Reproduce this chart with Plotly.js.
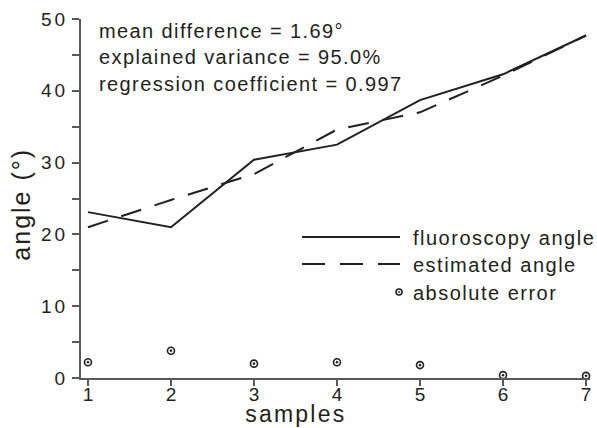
<!DOCTYPE html>
<html>
<head>
<meta charset="utf-8">
<script src="https://cdn.plot.ly/plotly-3.0.1.min.js"></script>
<style>
  html, body { margin: 0; padding: 0; background: #fff; }
  #chart { width: 597px; height: 428px; }
  .ytick text { letter-spacing: 3px; }
  .annotation[data-index="0"] text, .annotation[data-index="1"] text, .annotation[data-index="2"] text { letter-spacing: 1.4px; }
  .annotation[data-index="3"] text, .annotation[data-index="4"] text, .annotation[data-index="5"] text { letter-spacing: 1.5px; }
  .annotation[data-index="6"] text { letter-spacing: 2.2px; }
  .annotation[data-index="7"] text { letter-spacing: 2px; }
</style>
</head>
<body>
<div id="chart"></div>
<script>
// ---- data ----
const samples = [1, 2, 3, 4, 5, 6, 7];
const fluoroscopyAngle = [23.1, 21.0, 30.4, 32.5, 38.7, 42.3, 47.7];
const estimatedAngle = [21.0, 24.8, 28.4, 34.6, 37.0, 42.1, 47.7];
const absoluteError = [2.2, 3.8, 2.0, 2.2, 1.8, 0.4, 0.3];
const seriesNames = ['fluoroscopy angle', 'estimated angle', 'absolute error'];
const statsLines = ['mean difference = 1.69°', 'explained variance = 95.0%', 'regression coefficient = 0.997'];
const xTitle = 'samples';
const yTitle = 'angle (°)';

const INK = '#231f20';
const AXIS = '#58595b';
const FONT = 'Liberation Sans, Arial, sans-serif';

const traces = [
  { x: samples, y: fluoroscopyAngle, name: seriesNames[0], type: 'scatter', mode: 'lines',
    line: { color: INK, width: 2 }, showlegend: false, cliponaxis: false },
  { x: samples, y: estimatedAngle, name: seriesNames[1], type: 'scatter', mode: 'lines',
    line: { color: INK, width: 2, dash: '21px,14px' }, showlegend: false, cliponaxis: false },
  { x: samples, y: absoluteError, name: seriesNames[2], type: 'scatter', mode: 'markers',
    marker: { symbol: 'circle-open-dot', size: 7, color: INK, line: { color: INK, width: 1.6 } },
    showlegend: false, cliponaxis: false }
];

// legend placement (paper coords)
const legX0 = 0.4342, legX1 = 0.6267, legTextX = 0.6483;
const legY = [0.3928, 0.3175, 0.2396];
const legTextY = [0.390, 0.3156, 0.2376];

const annotations = [];
const statsY = [0.9674, 0.8933, 0.8189];
statsLines.forEach((t, i) => annotations.push({
  xref: 'paper', yref: 'paper', x: 0.0314, y: statsY[i], xanchor: 'left', yanchor: 'middle', align: 'left',
  text: t, showarrow: false, font: { family: FONT, size: 20, color: INK }
}));
seriesNames.forEach((t, i) => annotations.push({
  xref: 'paper', yref: 'paper', x: legTextX, y: legTextY[i], xanchor: 'left', yanchor: 'middle', align: 'left',
  text: t, showarrow: false, font: { family: FONT, size: 20, color: INK }
}));
annotations.push({
  xref: 'paper', yref: 'paper', x: 0.4224, y: -0.1393, xanchor: 'center', yanchor: 'bottom',
  text: xTitle, showarrow: false, borderpad: 0, font: { family: FONT, size: 23, color: INK }
});
annotations.push({
  xref: 'paper', yref: 'paper', x: -0.1185, y: 0.4847, xanchor: 'center', yanchor: 'middle',
  text: yTitle, textangle: -90, showarrow: false, font: { family: FONT, size: 25, color: INK }
});

const shapes = [
  { type: 'line', xref: 'paper', yref: 'paper', x0: legX0, x1: legX1, y0: legY[0], y1: legY[0],
    line: { color: INK, width: 2 } },
  { type: 'line', xref: 'paper', yref: 'paper', x0: legX0, x1: legX1, y0: legY[1], y1: legY[1],
    line: { color: INK, width: 2, dash: '23px,15px' } },
  { type: 'circle', xref: 'paper', yref: 'paper', xsizemode: 'pixel', ysizemode: 'pixel',
    xanchor: 0.6248, yanchor: legY[2], x0: -3, x1: 3, y0: -3, y1: 3,
    line: { color: INK, width: 1.6 } },
  { type: 'circle', xref: 'paper', yref: 'paper', xsizemode: 'pixel', ysizemode: 'pixel',
    xanchor: 0.6248, yanchor: legY[2], x0: -0.8, x1: 0.8, y0: -0.8, y1: 0.8,
    fillcolor: INK, line: { color: INK, width: 0.5 } }
];

const layout = {
  width: 597, height: 428,
  margin: { l: 81, r: 7, t: 19, b: 50 },
  paper_bgcolor: '#fff', plot_bgcolor: '#fff',
  showlegend: false,
  font: { family: FONT, color: INK },
  xaxis: {
    range: [0.916, 7.048], tick0: 1, dtick: 1, showgrid: false, zeroline: false,
    showline: true, linecolor: AXIS, linewidth: 2,
    ticks: 'outside', ticklen: 6, tickwidth: 2, tickcolor: AXIS, ticklabelstandoff: -8,
    tickfont: { family: FONT, size: 19, color: INK }
  },
  yaxis: {
    range: [0, 50], tick0: 0, dtick: 10, showgrid: false, zeroline: false,
    showline: true, linecolor: AXIS, linewidth: 2,
    ticks: 'outside', ticklen: 7, tickwidth: 2, tickcolor: AXIS,
    minor: { dtick: 5, ticks: 'outside', ticklen: 7, tickwidth: 2, tickcolor: AXIS, showgrid: false },
    tickfont: { family: FONT, size: 19, color: INK }
  },
  annotations: annotations,
  shapes: shapes
};

Plotly.newPlot('chart', traces, layout, { staticPlot: true, displayModeBar: false });
</script>
</body>
</html>
